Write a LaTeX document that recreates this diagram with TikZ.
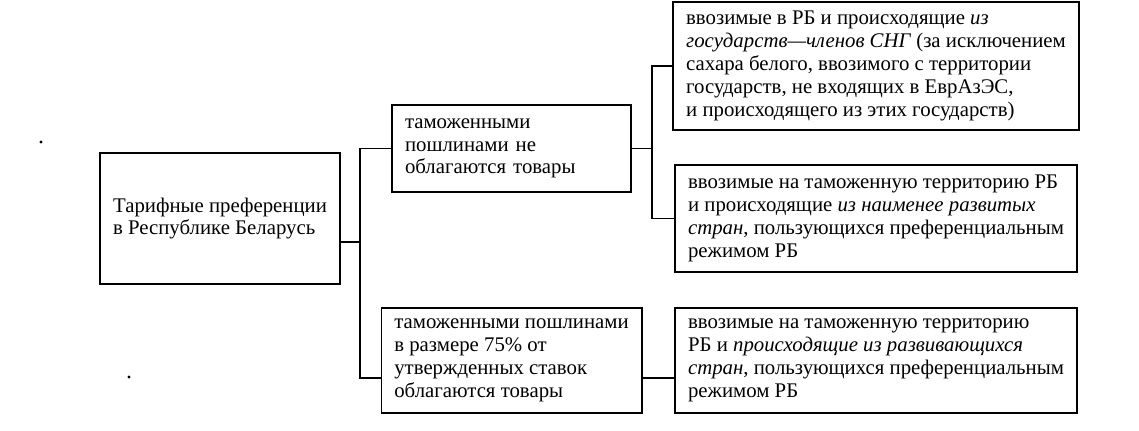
\documentclass[tikz,border=0pt]{standalone}
\usepackage{fontspec}
\setmainfont{Liberation Serif}
\usetikzlibrary{calc}

\tikzset{
  blok/.style={draw, line width=0.8pt, align=left, inner xsep=6.5pt, inner ysep=0pt,
    font=\fontsize{10.4pt}{11.4pt}\selectfont},
}

\begin{document}
\begin{tikzpicture}[x=0.5pt, y=-0.5pt, line width=0.8pt]
  \useasboundingbox (0,0) rectangle (1139,431);
  \node[blok, minimum width=116pt, minimum height=65.5pt] (glav) at (220,218.5)
    {Тарифные преференции\\в Республике Беларусь};
  \node[blok, minimum width=119.5pt, minimum height=43.5pt, text width=106.5pt] (nepos) at (511.5,148.5)
    {таможенными\\пошлинами не\\облагаются товары};
  \node[blok, minimum width=119.5pt, minimum height=52.5pt] (pos75) at (511.5,360.5)
    {таможенными пошлинами\\в размере 75\% от\\утвержденных ставок\\облагаются товары};
  \node[blok, minimum width=194pt, minimum height=64pt] (sng) at (876,66)
    {ввозимые в РБ и происходящие \textit{из}\\\textit{государств—членов СНГ} (за исключением\\сахара белого, ввозимого с территории\\государств, не входящих в ЕврАзЭС,\\и происходящего из этих государств)};
  \node[blok, minimum width=194pt, minimum height=53.5pt] (nrs) at (876,218.5)
    {ввозимые на таможенную территорию РБ\\и происходящие \textit{из наименее развитых}\\\textit{стран}, пользующихся преференциальным\\режимом РБ};
  \node[blok, minimum width=194pt, minimum height=52.5pt] (rs) at (876,360.5)
    {ввозимые на таможенную территорию\\РБ и \textit{происходящие из развивающихся}\\\textit{стран}, пользующихся преференциальным\\режимом РБ};
  % trunk points of the two forks
  \coordinate (s1) at (360,242);
  \coordinate (s2) at (360,378);
  \coordinate (s3) at (652,148.5);
  \draw (glav.east |- s1) -- (s1);
  \draw (nepos.west) -| (s1) |- (pos75.west |- s2);
  \draw (nepos.east) -- (s3);
  \draw (sng.west) -| (s3) |- (nrs.west);
  \draw (pos75.east |- s2) -- (rs.west |- s2);
  % two specks of the scan
  \fill (41,142) circle[radius=0.8pt];
  \fill (129,377) circle[radius=0.8pt];
\end{tikzpicture}
\end{document}
